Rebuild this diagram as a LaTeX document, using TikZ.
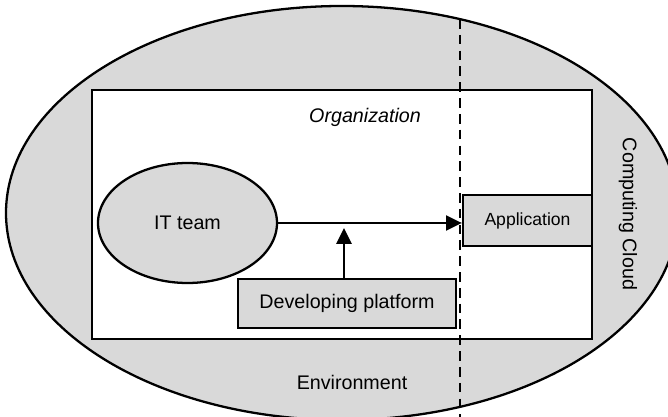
\documentclass[tikz,border=0pt]{standalone}
\usepackage{fontspec}
\setmainfont{Liberation Sans}
\usetikzlibrary{arrows,arrows.meta,shapes.geometric,positioning}

\begin{document}
\begin{tikzpicture}[line width=1.3pt,
  every node/.style={font=\fontsize{11.2}{13}\selectfont},
  shade/.style={fill=black!15,draw=black},
  box/.style={shade,rectangle,inner sep=0pt},
  tip/.style={-{Triangle[length=9pt,width=8.5pt]}}]
\useasboundingbox (0cm,0cm) rectangle (13.36cm,8.34cm);
% cloud and organization
\draw[shade] (6.84cm,4.08cm) ellipse (6.72cm and 4.14cm);
\draw[black,fill=white] (1.84cm,1.56cm) rectangle (11.84cm,6.54cm);
\node (org) at (7.3cm,6.0cm) {\itshape Organization};
\node (env) at (7.04cm,0.7cm) {Environment};
\node[rotate=-90] (cloud) at (12.56cm,4.06cm) {Computing Cloud};
% boundary of the organization
\coordinate (cuttop) at (9.2cm,7.96cm);
\coordinate (cutbot) at (9.2cm,-0.1cm);
\draw[line width=0.8pt,dash pattern=on 5.5pt off 3.5pt] (cuttop) -- (cutbot);
% parts
\node[ellipse,shade,minimum width=3.58cm,minimum height=2.4cm,inner sep=0pt] (team) at (3.75cm,3.88cm) {IT team};
\node[box,minimum width=2.58cm,minimum height=1.02cm,
  font=\fontsize{10}{12}\selectfont] (app) at (10.55cm,3.93cm) {Application};
\node[box,minimum width=4.36cm,minimum height=0.98cm] (dev) at (6.94cm,2.27cm) {Developing platform};
\coordinate (meet) at (6.88cm,3.78cm);
\draw[tip] (team.east) -- (team.east -| app.west);
\draw[tip] (dev.north -| meet) -- (meet);
\end{tikzpicture}
\end{document}
